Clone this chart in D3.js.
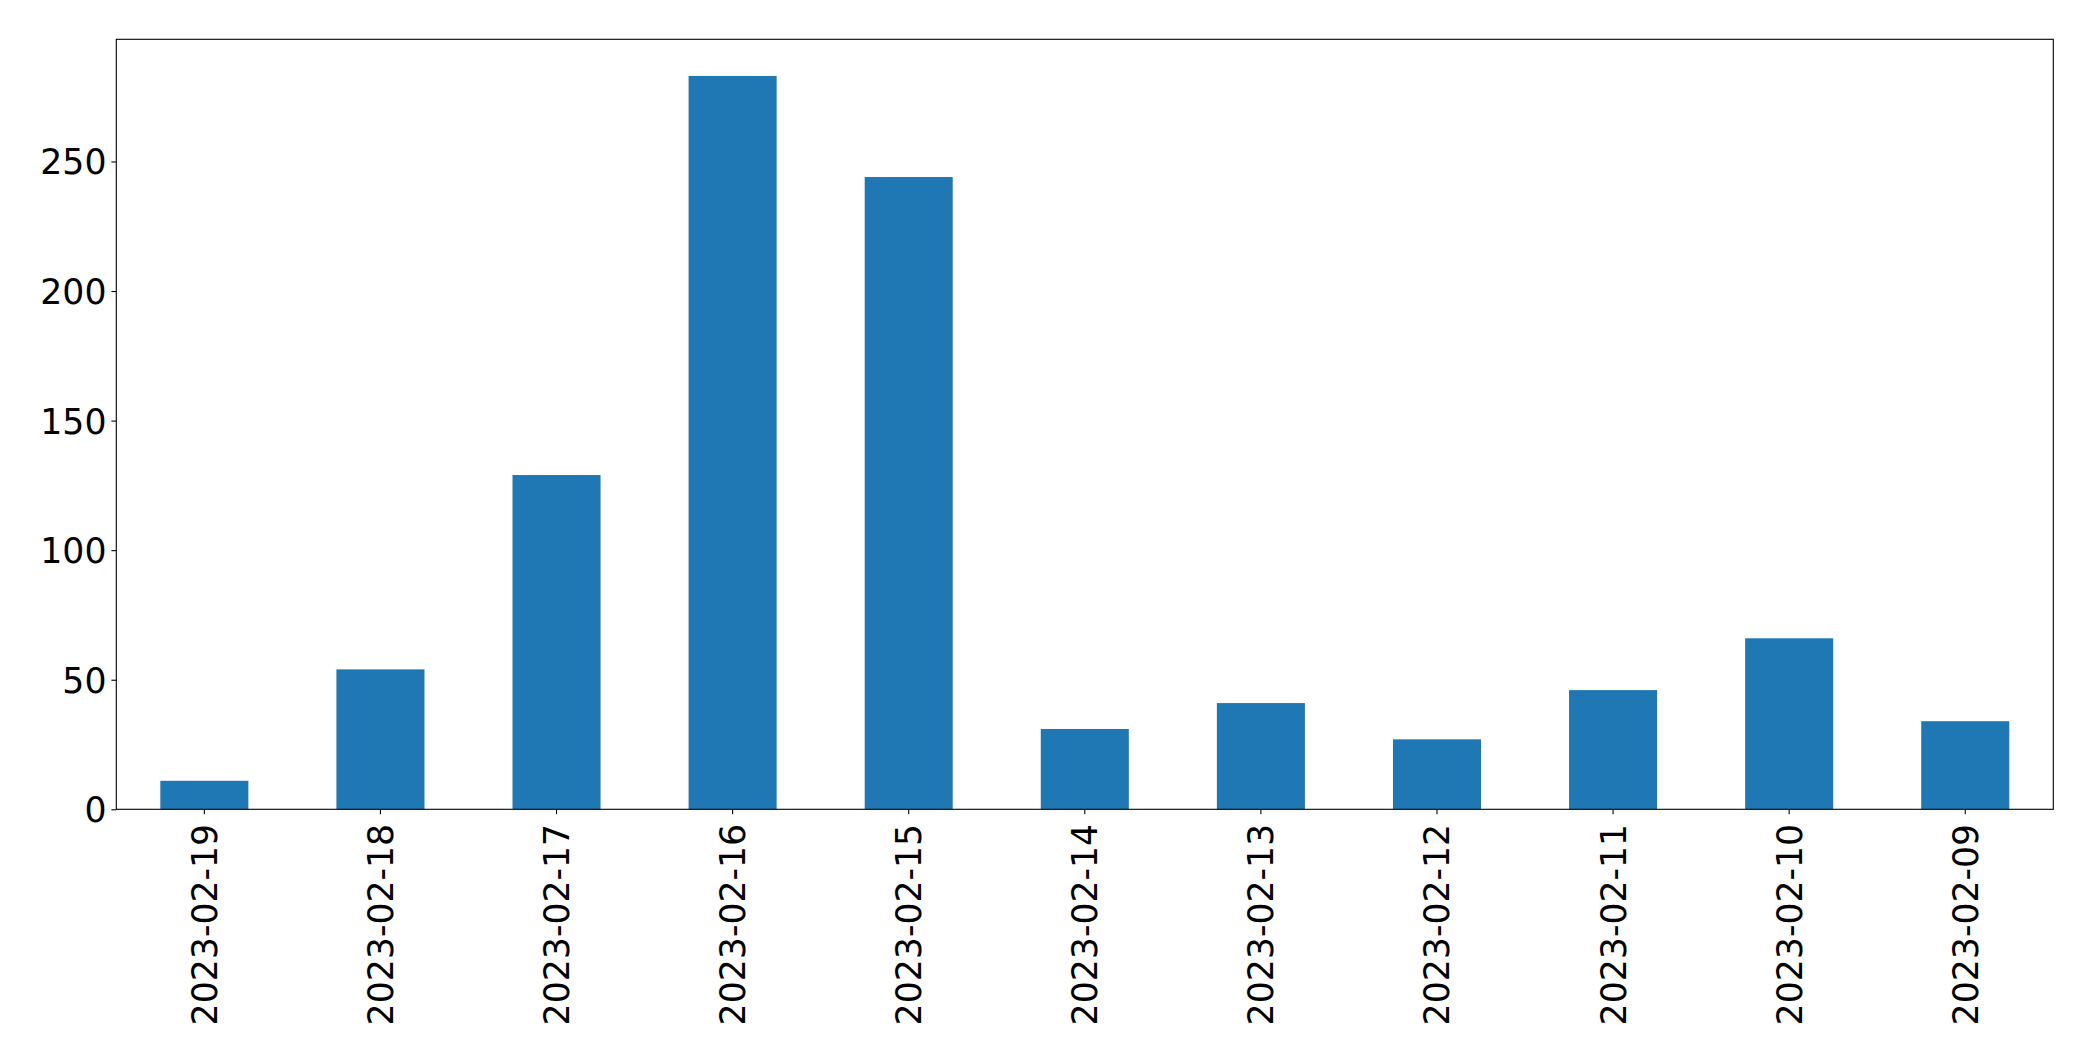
<!DOCTYPE html>
<html>
<head>
<meta charset="utf-8">
<script src="https://cdn.jsdelivr.net/npm/d3@7"></script>
<style>
  html, body { margin: 0; padding: 0; background: #fff; }
  svg { display: block; }
  text { font-family: "DejaVu Sans", sans-serif; fill: #000; }
</style>
</head>
<body>
<svg id="chart" width="2093" height="1061"></svg>
<script>
const categories = ["2023-02-19","2023-02-18","2023-02-17","2023-02-16","2023-02-15","2023-02-14","2023-02-13","2023-02-12","2023-02-11","2023-02-10","2023-02-09"];
const values = [11, 54, 129, 283, 244, 31, 41, 27, 46, 66, 34];
const yTicks = [0, 50, 100, 150, 200, 250];

const W = 2093, H = 1061;
const margin = { left: 116.3, top: 39.3, right: W - 2053.3, bottom: H - 809.3 };
const iw = W - margin.left - margin.right;
const ih = H - margin.top - margin.bottom;

const svg = d3.select("#chart");
const g = svg.append("g").attr("transform", `translate(${margin.left},${margin.top})`);

const x = d3.scaleBand().domain(categories).range([0, iw]).paddingInner(0.5).paddingOuter(0.25);
const y = d3.scaleLinear().domain([0, d3.max(values) * 1.05]).range([ih, 0]);

g.selectAll("rect.bar").data(values).join("rect")
  .attr("class", "bar")
  .attr("x", (d, i) => x(categories[i]))
  .attr("y", d => y(d))
  .attr("width", x.bandwidth())
  .attr("height", d => ih - y(d))
  .attr("fill", "#1f77b4");

const fs = 34.7;
const yAxis = d3.axisLeft(y).tickValues(yTicks).tickSize(4.9).tickPadding(4.9).tickFormat(d3.format("d"));
const ya = g.append("g").call(yAxis);
ya.select(".domain").remove();
ya.selectAll("line").attr("stroke", "#000").attr("stroke-width", 1.1);
ya.selectAll("text").style("font-size", fs + "px").attr("dy", "0.36em");

const xAxis = d3.axisBottom(x).tickSize(4.9).tickPadding(0);
const xa = g.append("g").attr("transform", `translate(0,${ih})`).call(xAxis);
xa.select(".domain").remove();
xa.selectAll("line").attr("stroke", "#000").attr("stroke-width", 1.1);
xa.selectAll("text")
  .style("font-size", fs + "px")
  .attr("text-anchor", "end")
  .attr("transform", "translate(0,14.5) rotate(-90)")
  .attr("x", 0).attr("y", 0)
  .attr("dy", "0.36em");

g.append("rect")
  .attr("x", 0).attr("y", 0).attr("width", iw).attr("height", ih)
  .attr("fill", "none").attr("stroke", "#000").attr("stroke-width", 1.1);
</script>
</body>
</html>
